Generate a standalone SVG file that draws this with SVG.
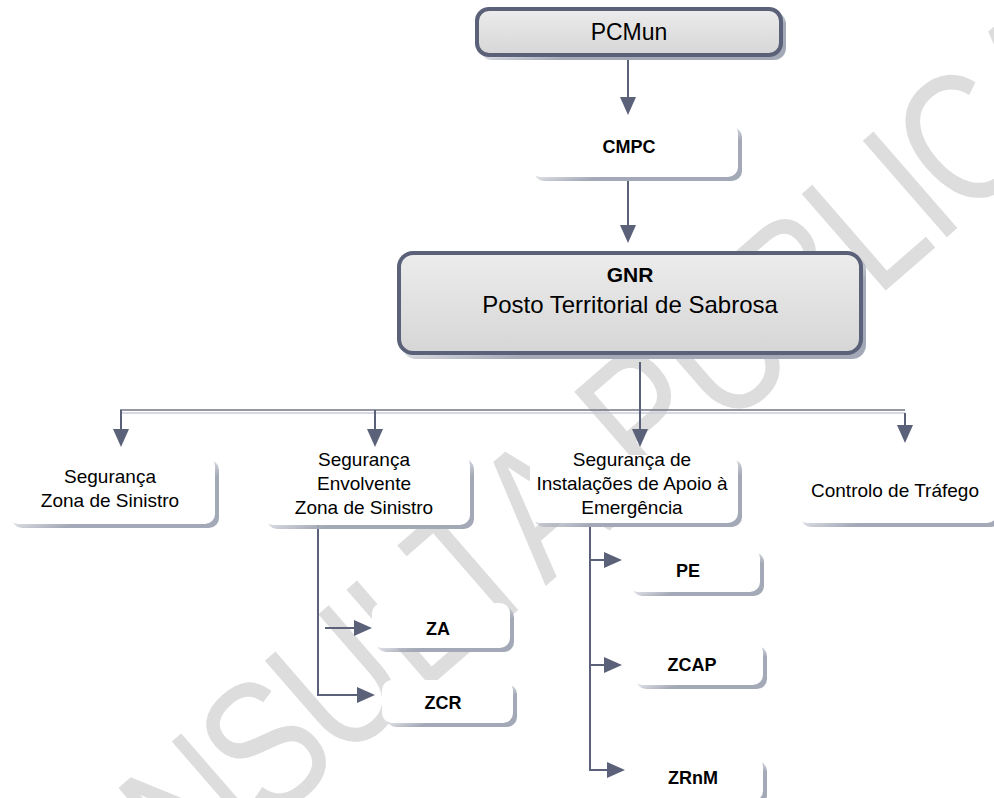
<svg xmlns="http://www.w3.org/2000/svg" width="994" height="798" viewBox="0 0 994 798">
  <style>
    .t { font-family: "Liberation Sans", Arial, sans-serif; fill: #000; text-anchor: middle; }
    .n { font-size: 19px; }
    .b { font-size: 18px; font-weight: bold; }
    .ln { fill: none; stroke: #5a6178; stroke-width: 2; }
    .wm { font-family: "Liberation Sans", Arial, sans-serif; font-size: 186px; fill: #dddddd; text-anchor: middle; }
  </style>
  <defs>
    <linearGradient id="shd" x1="0" y1="0" x2="1" y2="1">
      <stop offset="0.38" stop-color="#a4a9b7" stop-opacity="0"/>
      <stop offset="0.62" stop-color="#a4a9b7" stop-opacity="1"/>
    </linearGradient>
    <linearGradient id="gry" x1="0" y1="0" x2="0" y2="1">
      <stop offset="0" stop-color="#ececec"/>
      <stop offset="1" stop-color="#d6d6d6"/>
    </linearGradient>
    <marker id="ah" viewBox="0 0 18 16" markerWidth="18" markerHeight="16" refX="14" refY="8" orient="auto" markerUnits="userSpaceOnUse">
      <path d="M0,0 L18,8 L0,16 z" fill="#5a6178"/>
    </marker>
  </defs>

  <rect width="994" height="798" fill="#fff"/>

  <text class="wm" transform="translate(525 604) rotate(-41) scale(0.8 1)" x="-757.5 -626 -482.5 -361 -239 -120 -20 96 185 267.5 396 527.5 634 707.5 794 916" y="0">CONSULTA PÚBLICA</text>

  <g id="connectors">
    <line x1="121" y1="413" x2="905" y2="413" stroke="#c9ccd4" stroke-width="1.5"/>
    <line x1="120" y1="410" x2="905" y2="410" stroke="#6f7589" stroke-width="1.5"/>
    <path class="ln" d="M628,58 V111" marker-end="url(#ah)"/>
    <path class="ln" d="M628,180 V239" marker-end="url(#ah)"/>
    <path class="ln" d="M640,362 V443" marker-end="url(#ah)"/>
    <path class="ln" d="M121,410 V443" marker-end="url(#ah)"/>
    <path class="ln" d="M375,410 V443" marker-end="url(#ah)"/>
    <path class="ln" d="M905,413 V439" marker-end="url(#ah)"/>
    <path class="ln" d="M318,525 V695 H371" marker-end="url(#ah)"/>
    <path class="ln" d="M325,628 H368" marker-end="url(#ah)"/>
    <path class="ln" d="M590,523 V770 H621"/>
    <path class="ln" d="M590,560 H618" marker-end="url(#ah)"/>
    <path class="ln" d="M590,665 H618" marker-end="url(#ah)"/>
    <path class="ln" d="M600,770 H621" marker-end="url(#ah)"/>
  </g>

  <g id="pcmun">
    <rect x="480" y="12" width="306" height="48" rx="12" fill="url(#shd)"/>
    <rect x="477" y="9" width="304" height="46" rx="12" fill="url(#gry)" stroke="#5a6178" stroke-width="4"/>
    <text class="t" x="629" y="40" font-size="23">PCMun</text>
  </g>

  <g id="cmpc">
    <rect x="534" y="127" width="208" height="54" rx="10" fill="url(#shd)"/>
    <rect x="530" y="123" width="208" height="54" rx="10" fill="#fff"/>
    <text class="t b" x="629" y="153">CMPC</text>
  </g>

  <g id="gnr">
    <rect x="402" y="256" width="464" height="103" rx="14" fill="url(#shd)"/>
    <rect x="399" y="253" width="462" height="100" rx="14" fill="url(#gry)" stroke="#5a6178" stroke-width="4"/>
    <text class="t" x="630" y="282" font-size="21" font-weight="bold">GNR</text>
    <text class="t" x="630" y="313" font-size="24">Posto Territorial de Sabrosa</text>
  </g>

  <g id="seg-zona">
    <rect x="12" y="460" width="207" height="68" rx="10" fill="url(#shd)"/>
    <rect x="8" y="456" width="207" height="68" rx="10" fill="#fff"/>
    <text class="t n" x="110" y="483">Segurança</text>
    <text class="t n" x="110" y="507">Zona de Sinistro</text>
  </g>

  <g id="seg-envolvente">
    <rect x="267" y="459" width="207" height="70" rx="10" fill="url(#shd)"/>
    <rect x="263" y="455" width="207" height="70" rx="10" fill="#fff"/>
    <text class="t n" x="364" y="466">Segurança</text>
    <text class="t n" x="364" y="490">Envolvente</text>
    <text class="t n" x="364" y="514">Zona de Sinistro</text>
  </g>

  <g id="seg-instalacoes">
    <rect x="534" y="459" width="208" height="68" rx="10" fill="url(#shd)"/>
    <rect x="530" y="455" width="208" height="68" rx="10" fill="#fff"/>
    <text class="t n" x="632" y="466">Segurança de</text>
    <text class="t n" x="632" y="490">Instalações de Apoio à</text>
    <text class="t n" x="632" y="514">Emergência</text>
  </g>

  <g id="controlo">
    <rect x="801" y="459" width="200" height="68" rx="10" fill="url(#shd)"/>
    <rect x="797" y="455" width="200" height="68" rx="10" fill="#fff"/>
    <text class="t n" x="895" y="497">Controlo de Tráfego</text>
  </g>

  <g id="za">
    <rect x="376" y="607" width="138" height="45" rx="10" fill="url(#shd)"/>
    <rect x="372" y="603" width="138" height="45" rx="10" fill="#fff"/>
    <text class="t b" x="438" y="635">ZA</text>
  </g>

  <g id="zcr">
    <rect x="386" y="684" width="131" height="43" rx="10" fill="url(#shd)"/>
    <rect x="382" y="680" width="131" height="43" rx="10" fill="#fff"/>
    <text class="t b" x="443" y="709">ZCR</text>
  </g>

  <g id="pe">
    <rect x="632" y="552" width="132" height="44" rx="10" fill="url(#shd)"/>
    <rect x="628" y="548" width="132" height="44" rx="10" fill="#fff"/>
    <text class="t b" x="688" y="577">PE</text>
  </g>

  <g id="zcap">
    <rect x="636" y="646" width="131" height="43" rx="10" fill="url(#shd)"/>
    <rect x="632" y="642" width="131" height="43" rx="10" fill="#fff"/>
    <text class="t b" x="692" y="671">ZCAP</text>
  </g>

  <g id="zrnm">
    <rect x="636" y="761" width="131" height="44" rx="10" fill="url(#shd)"/>
    <rect x="632" y="757" width="131" height="44" rx="10" fill="#fff"/>
    <text class="t b" x="693" y="784">ZRnM</text>
  </g>
</svg>
